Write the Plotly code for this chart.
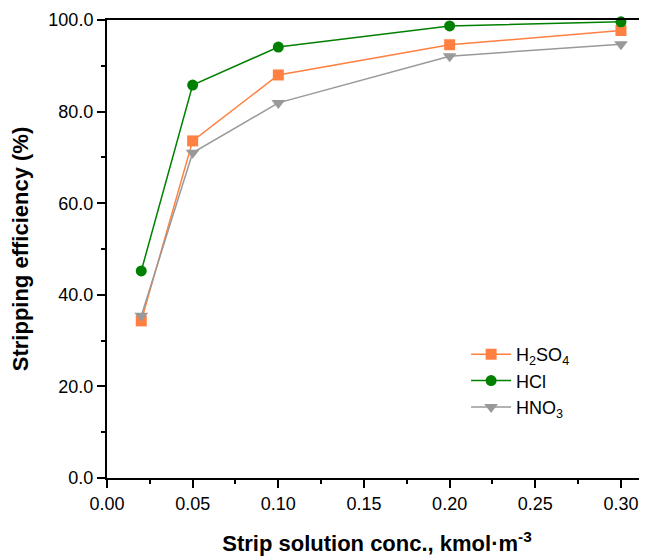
import plotly.graph_objects as go

conc = [0.02, 0.05, 0.10, 0.20, 0.30]
h2so4 = [34.3, 73.6, 88.0, 94.6, 97.7]
hcl = [45.2, 85.8, 94.1, 98.7, 99.6]
hno3 = [35.4, 71.0, 81.9, 92.1, 94.7]

fig = go.Figure()
fig.add_trace(go.Scatter(x=conc, y=h2so4, mode="lines+markers", name="H<sub>2</sub>SO<sub>4</sub>",
                         line=dict(color="#FF8040", width=1.5),
                         marker=dict(symbol="square", size=11, color="#FF8040")))
fig.add_trace(go.Scatter(x=conc, y=hcl, mode="lines+markers", name="HCl",
                         line=dict(color="#008000", width=1.5),
                         marker=dict(symbol="circle", size=11, color="#008000")))
fig.add_trace(go.Scatter(x=conc, y=hno3, mode="lines+markers", name="HNO<sub>3</sub>",
                         line=dict(color="#999999", width=1.5),
                         marker=dict(symbol="triangle-down", size=12, color="#999999")))

# page body adds an 8px margin, so the figure is 8px smaller and shifted
fig.update_layout(
    width=639, height=548,
    margin=dict(l=99, r=0, t=12, b=78),
    plot_bgcolor="white", paper_bgcolor="white",
    font=dict(family="Liberation Sans, Arial, sans-serif", size=18, color="black"),
    showlegend=True,
    legend=dict(x=0.665, y=0.31, xanchor="left", yanchor="top", bgcolor="rgba(0,0,0,0)",
                font=dict(size=18), tracegroupgap=0, itemwidth=40),
    xaxis=dict(range=[0, 0.3152], tickvals=[0, 0.05, 0.10, 0.15, 0.20, 0.25, 0.30],
               tickformat=".2f", showgrid=False, zeroline=False, automargin=False,
               showline=True, linecolor="black", linewidth=2, mirror=True,
               ticks="outside", ticklen=8, tickwidth=1.5, tickcolor="black",
               minor=dict(tickvals=[0.025, 0.075, 0.125, 0.175, 0.225, 0.275], ticks="outside",
                          ticklen=4, tickwidth=1.5, tickcolor="black"),
               title=dict(text="<b>Strip solution conc., kmol·m<sup>-3</sup></b>", font=dict(size=22), standoff=26)),
    yaxis=dict(range=[0, 100], tickvals=[0, 20, 40, 60, 80, 100], tickformat=".1f",
               showgrid=False, zeroline=False, automargin=False,
               showline=True, linecolor="black", linewidth=2, mirror=False,
               ticks="outside", ticklen=8, tickwidth=1.5, tickcolor="black",
               minor=dict(tickvals=[10, 30, 50, 70, 90], ticks="outside",
                          ticklen=4, tickwidth=1.5, tickcolor="black"),
               title=dict(text="<b>Stripping efficiency (%)</b>", font=dict(size=22), standoff=14)),
)
fig.update_traces(cliponaxis=False)

fig.write_html("out.html")
